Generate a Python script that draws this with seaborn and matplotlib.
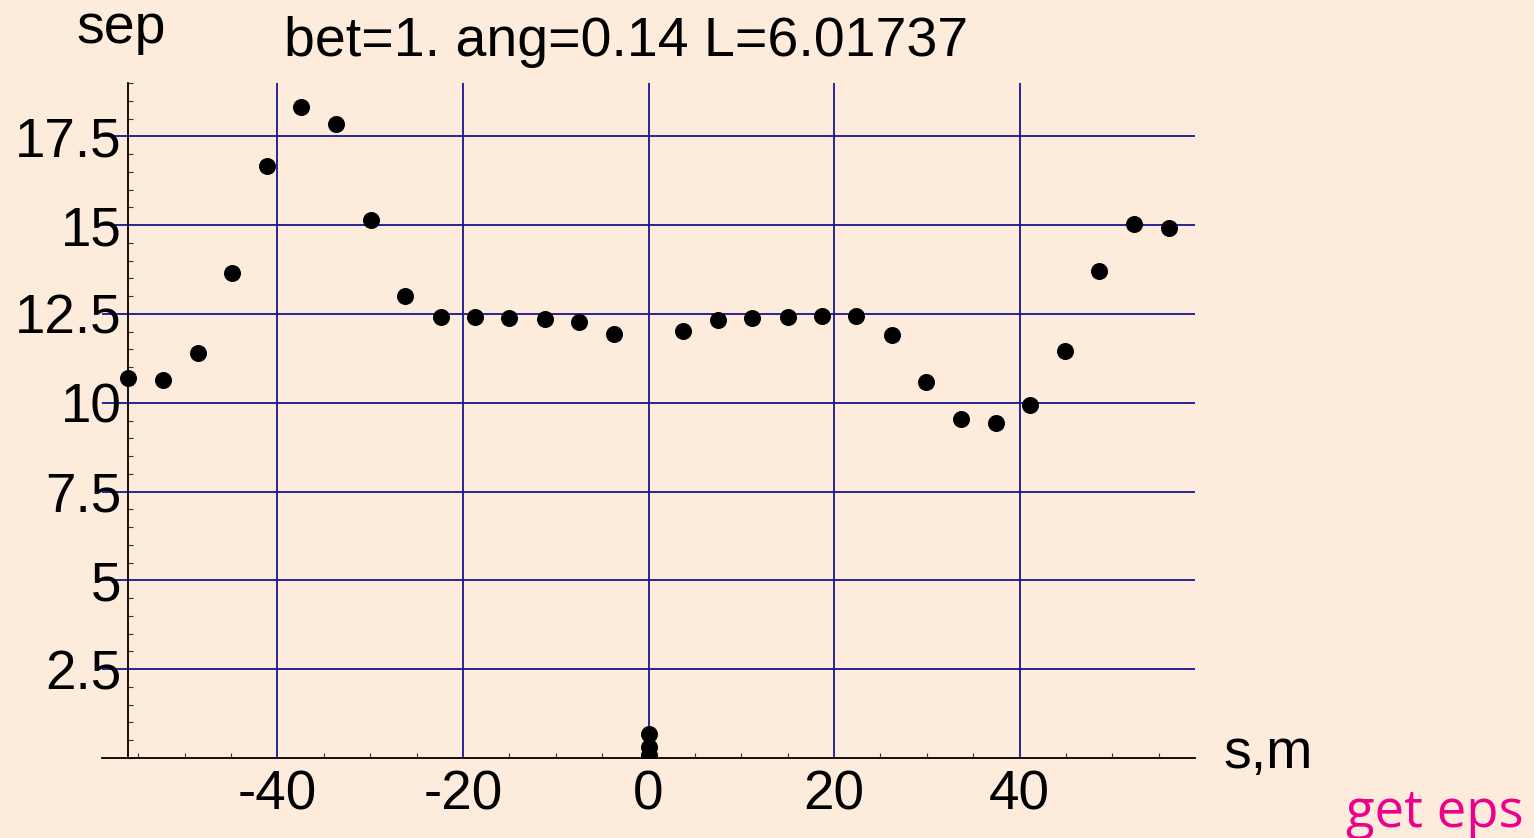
import numpy as np
import pandas as pd
import matplotlib
matplotlib.use("Agg")
import matplotlib.pyplot as plt
from matplotlib.ticker import MultipleLocator, FixedLocator, FixedFormatter
import seaborn as sns

# ---- data ----
s_main = [-56.1, -52.3, -48.6, -44.9, -41.1, -37.4, -33.7, -29.9, -26.2, -22.4,
          -18.7, -15.0, -11.2, -7.5, -3.7,
          3.7, 7.5, 11.2, 15.0, 18.7, 22.4, 26.2, 29.9, 33.7, 37.4,
          41.1, 44.9, 48.6, 52.3, 56.1]
sep_main = [10.69, 10.65, 11.41, 13.66, 16.66, 18.33, 17.85, 15.13, 13.01, 12.42,
            12.42, 12.39, 12.37, 12.28, 11.94,
            12.03, 12.34, 12.39, 12.42, 12.45, 12.45, 11.92, 10.59, 9.55, 9.44,
            9.94, 11.46, 13.72, 15.04, 14.93]
s_zero = [0.0, 0.0, 0.0]
sep_zero = [0.68, 0.32, 0.08]

x_ticks = [-40, -20, 0, 20, 40]
x_tick_labels = ["-40", "-20", "0", "20", "40"]
y_ticks = [2.5, 5, 7.5, 10, 12.5, 15, 17.5]
y_tick_labels = ["2.5", "5", "7.5", "10", "12.5", "15", "17.5"]

title_text = "bet=1. ang=0.14 L=6.01737"
y_label = "sep"
x_label = "s,m"
corner_text = "get eps"

df = pd.DataFrame({"s": s_main + s_zero, "sep": sep_main + sep_zero})

# ---- style ----
BG = "#FDECDC"
GRID = "#16168F"
sns.set_style("white", rc={"axes.facecolor": BG, "figure.facecolor": BG})
plt.rcParams["font.family"] = ["Liberation Sans", "DejaVu Sans"]
plt.rcParams["axes.unicode_minus"] = False

W, H = 1534, 838
fig = plt.figure(figsize=(W / 100, H / 100), dpi=100)
fig.patch.set_facecolor(BG)
ax = fig.add_axes([102 / W, (H - 758) / H, (1195 - 102) / W, (758 - 83) / H])
ax.set_facecolor(BG)

sns.scatterplot(data=df, x="s", y="sep", ax=ax, color="black", s=150,
                linewidth=0, zorder=3, clip_on=True)

ax.set_xlim(-58.9, 58.9)
ax.set_ylim(0, 19)

ax.set_xlabel("")
ax.set_ylabel("")

ax.xaxis.set_major_locator(FixedLocator(x_ticks))
ax.xaxis.set_major_formatter(FixedFormatter(x_tick_labels))
ax.yaxis.set_major_locator(FixedLocator(y_ticks))
ax.yaxis.set_major_formatter(FixedFormatter(y_tick_labels))
ax.xaxis.set_minor_locator(MultipleLocator(5))
ax.yaxis.set_minor_locator(MultipleLocator(0.5))

ax.grid(True, which="major", color=GRID, linewidth=1.3)
ax.set_axisbelow(True)

for side in ["top", "right"]:
    ax.spines[side].set_visible(False)
ax.spines["left"].set_position(("data", -56.07))
for side in ["left", "bottom"]:
    ax.spines[side].set_color("black")
    ax.spines[side].set_linewidth(1.3)
    ax.spines[side].set_zorder(4)

ax.tick_params(axis="both", which="major", length=0, labelsize=39.5, labelcolor="black")
ax.tick_params(axis="x", which="major", pad=8)
ax.tick_params(axis="y", which="major", pad=5)
ax.tick_params(axis="both", which="minor", direction="in", length=3.6,
               width=0.8, color="#333333")
ax.tick_params(axis="x", which="minor", bottom=True)
ax.tick_params(axis="y", which="minor", left=True)

# ---- texts ----
fig.text(626 / W, 1 - 56 / H, title_text, ha="center", va="baseline",
         fontsize=40, color="black")
fig.text(76 / W, 1 - 43 / H, y_label, ha="left", va="baseline",
         fontsize=40, color="black")
fig.text(1223 / W, 1 - 768 / H, x_label, ha="left", va="baseline",
         fontsize=40, color="black")
fig.text(1346 / W, 1 - 827 / H, corner_text, ha="left", va="baseline",
         fontsize=38, color="#EC008C", family=["Open Sans", "DejaVu Sans"])

fig.savefig("out.png", dpi=100, facecolor=BG)
